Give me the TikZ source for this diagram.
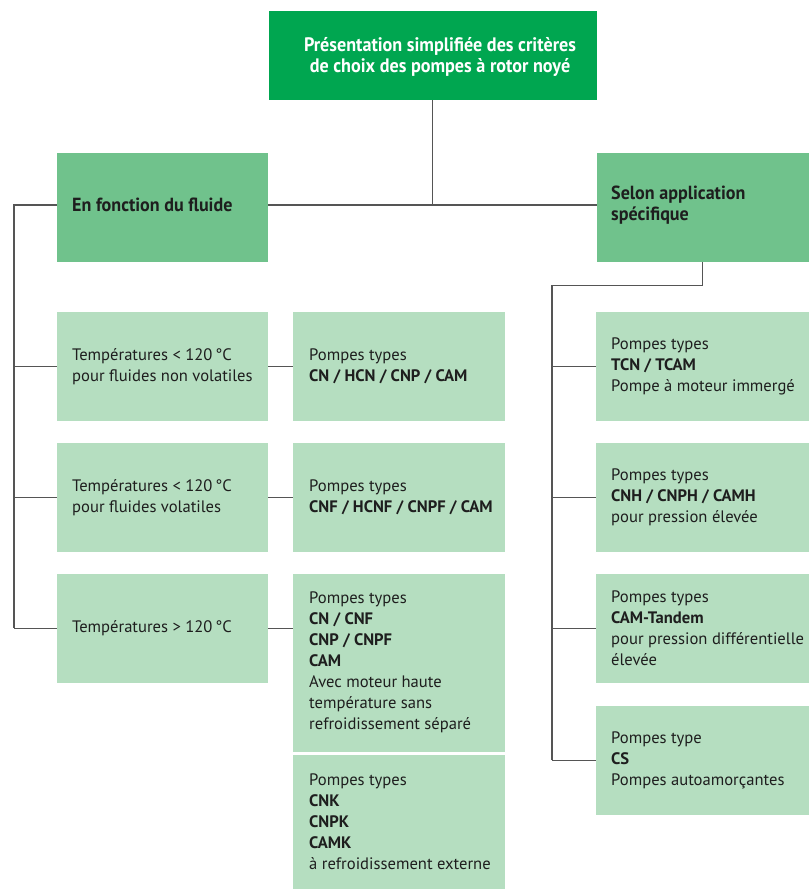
\documentclass[tikz,border=0pt]{standalone}
\usepackage{fontspec}
\setmainfont{PT Sans}
\newfontfamily\condfont{PT Sans}[FakeStretch=0.95]
\newfontfamily\titlefont{PT Sans}[FakeStretch=0.93]
\definecolor{dkgreen}{RGB}{0,166,80}
\definecolor{midgreen}{RGB}{112,194,140}
\definecolor{ltgreen}{RGB}{181,222,192}
\definecolor{linegray}{RGB}{85,85,85}
\definecolor{txt}{RGB}{30,30,30}
\tikzset{
  cell/.style={fill=ltgreen, inner sep=0, outer sep=0},
  head/.style={fill=midgreen, inner sep=0, outer sep=0},
  titlebox/.style={fill=dkgreen, inner sep=0, outer sep=0},
  body/.style={anchor=west, align=left, inner sep=0, text=txt, font=\fontsize{16.6}{21}\selectfont},
  headtext/.style={anchor=west, align=left, inner sep=0, text=txt, font=\condfont\bfseries\fontsize{19}{21}\selectfont},
  link/.style={draw=linegray, line width=1.3pt},
}
\begin{document}
\begin{tikzpicture}[x=1pt,y=-1pt]
\useasboundingbox (0,0) rectangle (809,889);
% boxes
\node[titlebox, minimum width=327.5, minimum height=89] (top) at (432.75,55.5) {};
\node[head, minimum width=211, minimum height=109] (hl) at (162.5,207.5) {};
\node[head, minimum width=212.5, minimum height=109] (hr) at (702.75,207.5) {};
\node[cell, minimum width=211, minimum height=108.5] (L1) at (162.5,366.25) {};
\node[cell, minimum width=211, minimum height=108.5] (L2) at (162.5,497.25) {};
\node[cell, minimum width=211, minimum height=108.5] (L3) at (162.5,628.25) {};
\node[cell, minimum width=212, minimum height=108.5] (M1) at (399,366.25) {};
\node[cell, minimum width=212, minimum height=108.5] (M2) at (399,497.25) {};
\node[cell, minimum width=212, minimum height=177.5] (M3) at (399,662.75) {};
\node[cell, minimum width=212, minimum height=134] (M4) at (399,822) {};
\node[cell, minimum width=213, minimum height=108.5] (R1) at (702.5,366.25) {};
\node[cell, minimum width=213, minimum height=108.5] (R2) at (702.5,497.25) {};
\node[cell, minimum width=213, minimum height=108.5] (R3) at (702.5,628.25) {};
\node[cell, minimum width=213, minimum height=109.5] (R4) at (702.5,760.25) {};
% texts
\node[align=center, text=white, inner sep=0, font=\titlefont\bfseries\fontsize{19.5}{21}\selectfont] (toptxt) at (440,56.5) {Présentation simplifiée des critères\\de choix des pompes à rotor noyé};
\node[headtext] (hlt) at (72,205) {En fonction du fluide};
\node[headtext] (hrt) at (611,205) {Selon application\\spécifique};
\node[body] (L1t) at (72,366.5) {Températures < 120\,°C\\pour fluides non volatiles};
\node[body] (L2t) at (72,497.5) {Températures < 120\,°C\\pour fluides volatiles};
\node[body] (L3t) at (72,628.5) {Températures > 120\,°C};
\node[body] (M1t) at (309,366.5) {Pompes types\\\textbf{CN / HCN / CNP / CAM}};
\node[body] (M2t) at (309,497.5) {Pompes types\\\textbf{CNF / HCNF / CNPF / CAM}};
\node[body] (M3t) at (309,662.75) {Pompes types\\\textbf{CN / CNF}\\\textbf{CNP / CNPF}\\\textbf{CAM}\\Avec moteur haute\\température sans\\refroidissement séparé};
\node[body] (M4t) at (309,822) {Pompes types\\\textbf{CNK}\\\textbf{CNPK}\\\textbf{CAMK}\\à refroidissement externe};
\node[body] (R1t) at (611,366.5) {Pompes types\\\textbf{TCN / TCAM}\\Pompe à moteur immergé};
\node[body] (R2t) at (611,497.5) {Pompes types\\\textbf{CNH / CNPH / CAMH}\\pour pression élevée};
\node[body] (R3t) at (611,628.5) {Pompes types\\\textbf{CAM-Tandem}\\pour pression différentielle\\élevée};
\node[body] (R4t) at (611,760.25) {Pompes type\\\textbf{CS}\\Pompes autoamorçantes};
% connectors
\coordinate (jL) at (14,205);
\coordinate (jR) at (552,285.5);
\draw[link] (top.south) -- (top.south |- jL);
\draw[link] (hl.east |- jL) -- (hr.west |- jL);
\draw[link] (hl.west |- jL) -- (jL) -- (jL |- L3.west);
\draw[link] (jL |- L1.west) -- (L1.west);
\draw[link] (jL |- L2.west) -- (L2.west);
\draw[link] (jL |- L3.west) -- (L3.west);
\draw[link] (L1.east) -- (M1.west);
\draw[link] (L2.east) -- (M2.west);
\draw[link] (L3.east) -- (L3.east -| M3.west);
\draw[link] (hr.south) |- (jR) -- (jR |- R4.west);
\draw[link] (jR |- R1.west) -- (R1.west);
\draw[link] (jR |- R2.west) -- (R2.west);
\draw[link] (jR |- R3.west) -- (R3.west);
\draw[link] (jR |- R4.west) -- (R4.west);
\end{tikzpicture}
\end{document}
